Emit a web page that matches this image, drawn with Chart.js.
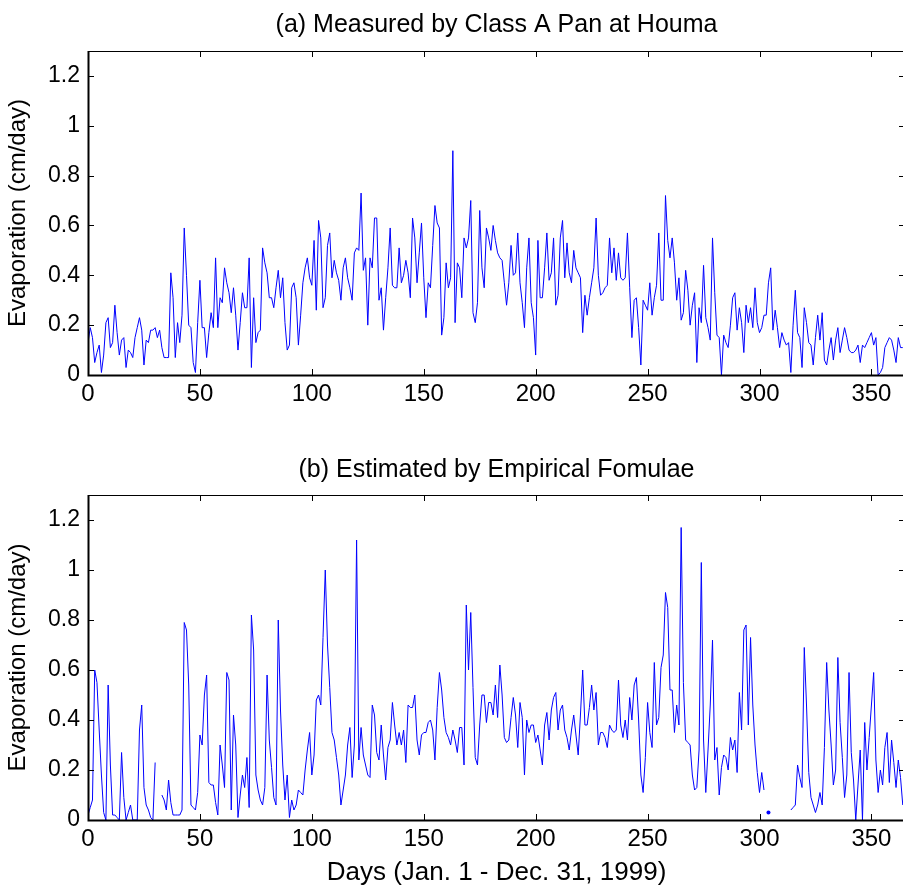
<!DOCTYPE html>
<html>
<head>
<meta charset="utf-8">
<script src="https://cdn.jsdelivr.net/npm/chart.js@4.4.0/dist/chart.umd.min.js"></script>
<style>
  html, body { margin: 0; padding: 0; background: #fff; }
  #wrap { position: relative; width: 903px; height: 888px; overflow: hidden; }
  #topChart { position: absolute; left: 0; top: 0; }
  #botChart { position: absolute; left: 0; top: 440px; }
</style>
</head>
<body>
<div id="wrap">
  <canvas id="topChart" width="905" height="440"></canvas>
  <canvas id="botChart" width="905" height="448"></canvas>
</div>
<script>
// === data (one value per day, day 0 .. 364) ===

const titleTop = "(a) Measured by Class A Pan at Houma";
const titleBot = "(b) Estimated by Empirical Fomulae";
const yLabel = "Evaporation (cm/day)";
const xLabel = "Days (Jan. 1 - Dec. 31, 1999)";

const xTicks = [0, 50, 100, 150, 200, 250, 300, 350];
const yTicks = [0, 0.2, 0.4, 0.6, 0.8, 1, 1.2];

// (a) pan measurements, cm/day
const measured = [
  0.13, 0.19, 0.15, 0.05, 0.09, 0.12, 0.01, 0.08, 0.21, 0.23,
  0.11, 0.13, 0.28, 0.17, 0.08, 0.14, 0.15, 0.03, 0.10, 0.09,
  0.07, 0.15, 0.19, 0.23, 0.18, 0.04, 0.14, 0.13, 0.18, 0.18,
  0.19, 0.15, 0.18, 0.11, 0.07, 0.07, 0.07, 0.41, 0.31, 0.07,
  0.21, 0.13, 0.24, 0.59, 0.40, 0.20, 0.19, 0.05, 0.01, 0.21,
  0.38, 0.19, 0.19, 0.07, 0.17, 0.25, 0.19, 0.47, 0.19, 0.31,
  0.29, 0.43, 0.37, 0.33, 0.25, 0.35, 0.24, 0.10, 0.21, 0.33,
  0.27, 0.27, 0.47, 0.03, 0.31, 0.13, 0.17, 0.18, 0.51, 0.45,
  0.41, 0.31, 0.31, 0.27, 0.35, 0.42, 0.31, 0.39, 0.21, 0.10,
  0.12, 0.35, 0.37, 0.31, 0.12, 0.24, 0.37, 0.43, 0.47, 0.39,
  0.36, 0.54, 0.26, 0.62, 0.55, 0.27, 0.31, 0.52, 0.57, 0.39,
  0.46, 0.41, 0.38, 0.30, 0.43, 0.47, 0.39, 0.35, 0.30, 0.49,
  0.51, 0.50, 0.73, 0.42, 0.47, 0.20, 0.47, 0.43, 0.63, 0.63,
  0.30, 0.35, 0.18, 0.31, 0.43, 0.59, 0.36, 0.35, 0.35, 0.51,
  0.37, 0.40, 0.46, 0.41, 0.31, 0.63, 0.55, 0.37, 0.49, 0.61,
  0.39, 0.23, 0.37, 0.35, 0.52, 0.68, 0.61, 0.59, 0.16, 0.23,
  0.45, 0.35, 0.39, 0.90, 0.21, 0.45, 0.43, 0.31, 0.55, 0.51,
  0.55, 0.70, 0.25, 0.21, 0.29, 0.66, 0.43, 0.35, 0.59, 0.55,
  0.50, 0.60, 0.54, 0.49, 0.47, 0.46, 0.37, 0.28, 0.37, 0.52,
  0.40, 0.41, 0.57, 0.37, 0.29, 0.19, 0.43, 0.55, 0.29, 0.23,
  0.08, 0.54, 0.31, 0.31, 0.43, 0.57, 0.38, 0.41, 0.55, 0.28,
  0.32, 0.55, 0.62, 0.39, 0.53, 0.41, 0.37, 0.50, 0.43, 0.41,
  0.39, 0.17, 0.32, 0.24, 0.31, 0.37, 0.43, 0.63, 0.40, 0.32,
  0.33, 0.35, 0.36, 0.55, 0.41, 0.51, 0.38, 0.49, 0.39, 0.38,
  0.39, 0.57, 0.35, 0.15, 0.30, 0.31, 0.19, 0.04, 0.30, 0.28,
  0.26, 0.37, 0.24, 0.31, 0.36, 0.57, 0.30, 0.30, 0.72, 0.54,
  0.47, 0.55, 0.45, 0.30, 0.39, 0.22, 0.25, 0.42, 0.34, 0.20,
  0.28, 0.33, 0.05, 0.27, 0.21, 0.44, 0.23, 0.19, 0.14, 0.55,
  0.33, 0.16, 0.15, 0.00, 0.16, 0.13, 0.11, 0.20, 0.31, 0.33,
  0.18, 0.27, 0.21, 0.09, 0.28, 0.21, 0.27, 0.19, 0.35, 0.21,
  0.17, 0.19, 0.24, 0.24, 0.37, 0.43, 0.18, 0.26, 0.19, 0.11,
  0.17, 0.14, 0.12, 0.13, 0.01, 0.20, 0.34, 0.17, 0.15, 0.03,
  0.27, 0.21, 0.13, 0.12, 0.04, 0.15, 0.24, 0.14, 0.25, 0.06,
  0.04, 0.10, 0.15, 0.06, 0.14, 0.19, 0.09, 0.14, 0.19, 0.15,
  0.10, 0.09, 0.09, 0.10, 0.12, 0.05, 0.12, 0.11, 0.13, 0.15,
  0.17, 0.12, 0.15, 0.00, 0.01, 0.03, 0.11, 0.13, 0.15, 0.14,
  0.10, 0.05, 0.15, 0.11, 0.11
];

// (b) empirical estimate, cm/day (null = missing day)
const estimated = [
  0.02, 0.05, 0.08, 0.60, 0.55, 0.36, 0.18, 0.03, 0.00, 0.54,
  0.22, 0.02, 0.02, 0.01, 0.00, 0.27, 0.09, 0.00, 0.03, 0.06,
  0.00, 0.00, 0.00, 0.36, 0.46, 0.13, 0.06, 0.04, 0.01, 0.00,
  0.23, null, null, 0.10, 0.08, 0.04, 0.16, 0.07, 0.02, 0.02,
  0.02, 0.02, 0.04, 0.79, 0.76, 0.54, 0.06, 0.05, 0.04, 0.11,
  0.34, 0.30, 0.50, 0.58, 0.15, 0.14, 0.14, 0.07, 0.02, 0.30,
  0.22, 0.13, 0.59, 0.56, 0.04, 0.42, 0.30, 0.01, 0.10, 0.18,
  0.13, 0.25, 0.05, 0.82, 0.68, 0.18, 0.12, 0.08, 0.06, 0.13,
  0.58, 0.32, 0.21, 0.09, 0.06, 0.80, 0.44, 0.22, 0.08, 0.18,
  0.01, 0.08, 0.04, 0.06, 0.12, 0.11, 0.10, 0.20, 0.28, 0.35,
  0.18, 0.26, 0.48, 0.50, 0.46, 0.73, 1.00, 0.70, 0.53, 0.35,
  0.32, 0.25, 0.18, 0.06, 0.12, 0.18, 0.30, 0.37, 0.17, 0.30,
  1.12, 0.24, 0.37, 0.26, 0.22, 0.18, 0.17, 0.46, 0.42, 0.27,
  0.24, 0.38, 0.26, 0.16, 0.29, 0.32, 0.47, 0.38, 0.30, 0.35,
  0.30, 0.36, 0.23, 0.46, 0.45, 0.45, 0.50, 0.32, 0.26, 0.34,
  0.35, 0.35, 0.39, 0.40, 0.36, 0.24, 0.45, 0.59, 0.52, 0.41,
  0.35, 0.33, 0.30, 0.36, 0.32, 0.27, 0.37, 0.37, 0.22, 0.86,
  0.60, 0.83, 0.53, 0.25, 0.22, 0.38, 0.50, 0.50, 0.39, 0.47,
  0.47, 0.42, 0.54, 0.41, 0.62, 0.50, 0.33, 0.31, 0.32, 0.41,
  0.49, 0.42, 0.29, 0.47, 0.41, 0.18, 0.40, 0.35, 0.38, 0.38,
  0.31, 0.34, 0.28, 0.22, 0.38, 0.43, 0.32, 0.44, 0.49, 0.51,
  0.36, 0.44, 0.46, 0.36, 0.33, 0.28, 0.36, 0.42, 0.34, 0.26,
  0.42, 0.60, 0.38, 0.38, 0.45, 0.54, 0.44, 0.51, 0.30, 0.35,
  0.35, 0.33, 0.29, 0.38, 0.36, 0.35, 0.36, 0.56, 0.38, 0.33,
  0.40, 0.32, 0.49, 0.40, 0.54, 0.57, 0.40, 0.18, 0.11, 0.25,
  0.47, 0.35, 0.29, 0.63, 0.38, 0.41, 0.61, 0.66, 0.91, 0.85,
  0.52, 0.52, 0.35, 0.46, 0.38, 1.17, 0.55, 0.32, 0.31, 0.30,
  0.18, 0.12, 0.13, 0.28, 1.03, 0.32, 0.11, 0.28, 0.46, 0.72,
  0.24, 0.29, 0.10, 0.21, 0.26, 0.25, 0.20, 0.33, 0.28, 0.32,
  0.19, 0.51, 0.36, 0.76, 0.78, 0.38, 0.73, 0.46, 0.30, 0.19,
  0.11, 0.19, 0.12, null, 0.03, null, null, null, null, null,
  null, null, null, null, 0.04, 0.05, 0.06, 0.22, 0.17, 0.13,
  0.69, 0.46, 0.19, 0.09, 0.06, 0.03, 0.06, 0.11, 0.06, 0.29,
  0.63, 0.44, 0.30, 0.14, 0.20, 0.65, 0.39, 0.25, 0.09, 0.18,
  0.59, 0.27, 0.16, 0.00, 0.14, 0.28, 0.00, 0.39, 0.20, 0.33,
  0.46, 0.59, 0.24, 0.11, 0.20, 0.14, 0.29, 0.35, 0.15, 0.32,
  0.23, 0.13, 0.24, 0.17, 0.06
];

// === drawing ===

const FONT = "'Liberation Sans', Arial, sans-serif";

// matlab-like box with inward ticks on all four sides
const boxPlugin = {
  id: "box",
  afterDraw(chart) {
    const { ctx, chartArea: a, scales } = chart;
    const len = 6;
    ctx.save();
    ctx.strokeStyle = "#000";
    ctx.lineWidth = 1;
    ctx.strokeRect(a.left + 0.5, a.top + 0.5, a.right - a.left, a.bottom - a.top);
    ctx.beginPath();
    scales.x.ticks.forEach((t) => {
      const px = Math.round(scales.x.getPixelForValue(t.value)) + 0.5;
      ctx.moveTo(px, a.bottom); ctx.lineTo(px, a.bottom - len);
      ctx.moveTo(px, a.top); ctx.lineTo(px, a.top + len);
    });
    scales.y.ticks.forEach((t) => {
      const py = Math.round(scales.y.getPixelForValue(t.value)) + 0.5;
      ctx.moveTo(a.left, py); ctx.lineTo(a.left + len, py);
      ctx.moveTo(a.right, py); ctx.lineTo(a.right - len, py);
    });
    ctx.stroke();
    // heavier left / bottom axis lines
    ctx.lineWidth = 2;
    ctx.beginPath();
    ctx.moveTo(a.left + 0.5, a.top);
    ctx.lineTo(a.left + 0.5, a.bottom + 0.5);
    ctx.lineTo(a.right, a.bottom + 0.5);
    ctx.stroke();
    ctx.restore();
  },
};

function makeChart(canvasId, title, values, opts) {
  const points = values.map((v, i) => ({ x: i, y: v }));
  return new Chart(document.getElementById(canvasId), {
    type: "line",
    data: {
      datasets: [
        {
          data: points,
          borderColor: "#0000ff",
          backgroundColor: "#0000ff",
          borderWidth: 1,
          tension: 0,
          spanGaps: false,
          fill: false,
          // lone day between gaps shows as a dot
          pointRadius: (c) => {
            const i = c.dataIndex;
            const prev = values[i - 1], next = values[i + 1];
            return values[i] != null && prev == null && next == null ? 2 : 0;
          },
          pointBorderWidth: 0,
        },
      ],
    },
    options: {
      responsive: false,
      animation: false,
      layout: { padding: { left: 0, right: 0, top: 0, bottom: 0 } },
      plugins: {
        legend: { display: false },
        tooltip: { enabled: false },
        title: {
          display: true,
          fullSize: false,
          text: title,
          color: "#000",
          font: { family: FONT, size: 25, weight: "normal" },
          padding: opts.titlePad,
        },
      },
      scales: {
        x: {
          type: "linear",
          min: 0,
          max: 365,
          grid: { display: false, drawTicks: false },
          border: { display: false },
          afterFit: (s) => { s.height = opts.xHeight; },
          afterBuildTicks: (s) => { s.ticks = xTicks.map((v) => ({ value: v })); },
          ticks: {
            color: "#000",
            padding: 5,
            maxRotation: 0,
            font: { family: FONT, size: 24 },
            callback: (v) => String(v),
          },
          title: {
            display: !!opts.xTitle,
            text: opts.xTitle || "",
            color: "#000",
            font: { family: FONT, size: 26 },
            padding: { top: 0, bottom: 0 },
          },
        },
        y: {
          min: 0,
          max: 1.3,
          grid: { display: false, drawTicks: false },
          border: { display: false },
          afterFit: (s) => { s.width = 88; },
          afterBuildTicks: (s) => { s.ticks = yTicks.map((v) => ({ value: v })); },
          ticks: {
            color: "#000",
            padding: 8,
            font: { family: FONT, size: 23 },
            callback: (v) => String(+v.toFixed(1)),
          },
          title: {
            display: true,
            text: yLabel,
            color: "#000",
            font: { family: FONT, size: 24 },
            padding: { top: 4, bottom: 0 },
          },
        },
      },
    },
    plugins: [boxPlugin],
  });
}

makeChart("topChart", titleTop, measured, {
  titlePad: { top: 10, bottom: 11 },
  xHeight: 65,
});

makeChart("botChart", titleBot, estimated, {
  titlePad: { top: 15, bottom: 10 },
  xHeight: 68,
  xTitle: xLabel,
});
</script>
</body>
</html>
